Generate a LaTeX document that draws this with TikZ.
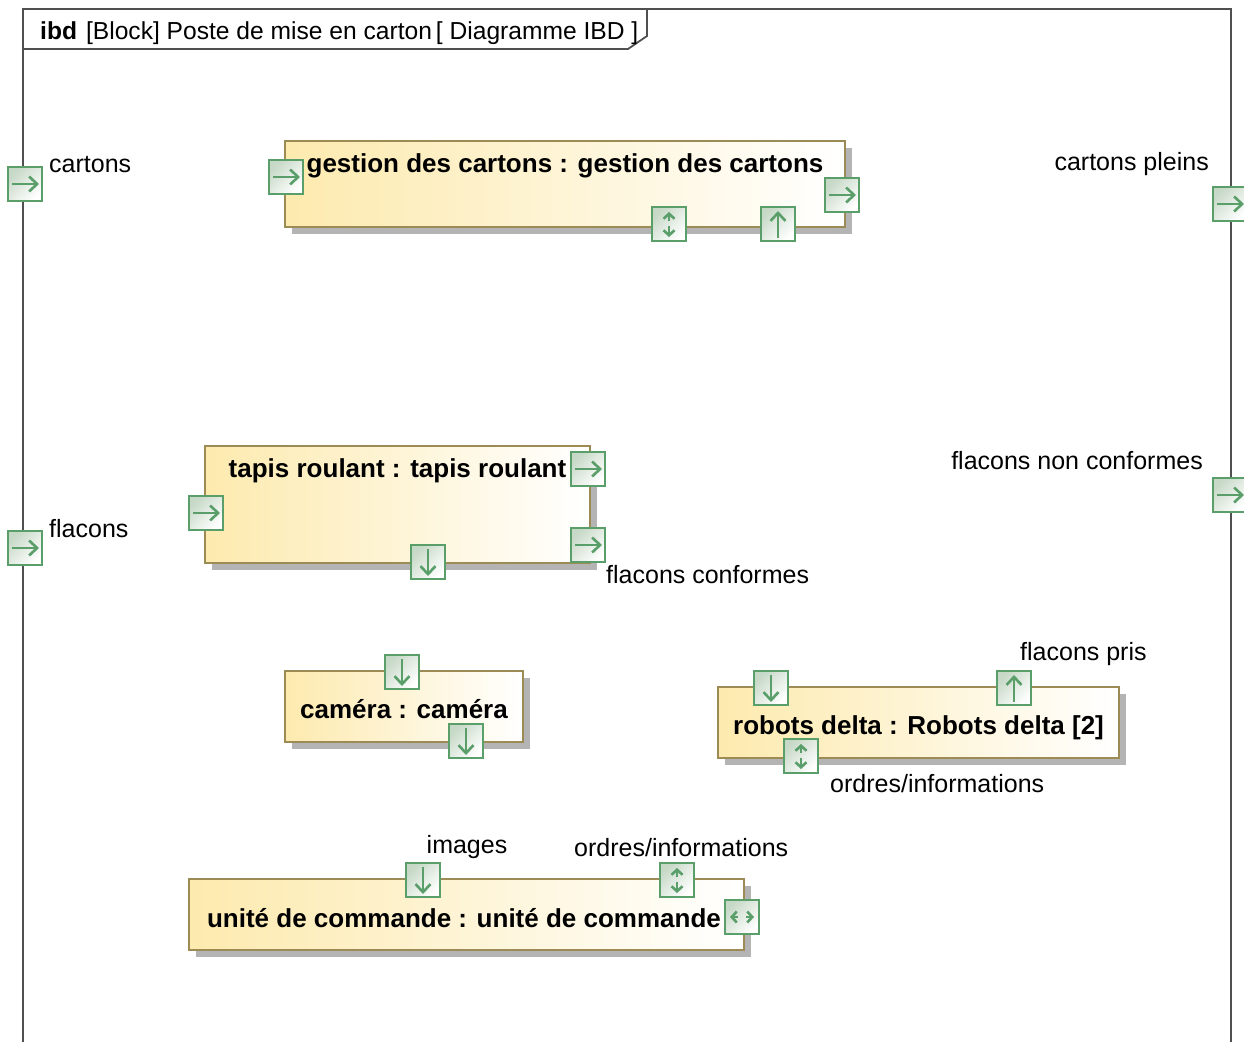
\documentclass[tikz,border=0pt]{standalone}
\usepackage{fontspec}
\setmainfont{Liberation Sans}
\usetikzlibrary{arrows.meta,shadows,positioning}

\definecolor{vertport}{HTML}{5A9E6A}
\definecolor{fondport}{HTML}{C6D8C6}
\definecolor{jaunebloc}{HTML}{FDEAAE}
\definecolor{bordbloc}{HTML}{9C8B55}
\definecolor{ombre}{HTML}{B4B4B4}
\definecolor{cadre}{HTML}{505050}

\newcommand{\txtlbl}{\fontsize{25}{30}\selectfont}
\newcommand{\txtbloc}{\fontsize{26}{30}\selectfont\bfseries}

\tikzset{
  fleche/.style = {draw=vertport, line width=2.6pt, -{Straight Barb[length=8pt,width=15pt]}},
  petite/.style = {draw=vertport, line width=2.6pt, -{Straight Barb[length=5pt,width=11pt]}},
  pR/.pic  = {\draw[fleche] (-13,0) -- (14,0);},
  pD/.pic  = {\draw[fleche] (0,-13) -- (0,14);},
  pU/.pic  = {\draw[fleche] (0,14) -- (0,-13);},
  pUD/.pic = {\draw[petite] (0,-3) -- (0,-12); \draw[petite] (0,2) -- (0,13);},
  pLR/.pic = {\draw[petite] (-4,0) -- (-12,0); \draw[petite] (4,0) -- (12,0);}
}

\begin{document}
\begin{tikzpicture}[x=1pt, y=-1pt,
    bloc/.style = {draw=bordbloc, line width=1.6pt, left color=jaunebloc, right color=white,
                   inner sep=0pt,
                   drop shadow={shadow xshift=7pt, shadow yshift=-7pt, opacity=1, fill=ombre}},
    titre/.style = {anchor=base, inner sep=0pt, font=\txtbloc},
    port/.style = {draw=vertport, line width=2.4pt, minimum size=34pt, inner sep=0pt,
                   top color=fondport, bottom color=white, shading angle=45},
    lbl/.style = {inner sep=0pt, font=\txtlbl},
    cadre/.style = {draw=cadre, line width=1.8pt}]
    \useasboundingbox (0,0) rectangle (1244,1041);

    % Cadre du diagramme
    \draw[cadre] (23,1045) -- (23,9) -- (1231,9) -- (1231,1045);
    \draw[cadre] (23,49) -- (628,49) -- (647,36) -- (647,9);
    \node[lbl, anchor=base west, font=\fontsize{24.6}{28}\selectfont] (entete) at (40,40)
        {\textbf{ibd}\hspace{9pt}[Block] Poste de mise en carton\hspace{4pt}[ Diagramme IBD ]};

    % Blocs
    \node[bloc, minimum width=560pt, minimum height=86pt] (gc) at (565,184) {};
    \node[titre] (gc-t) at (565,172) {gestion des cartons : gestion des cartons};
    \node[bloc, minimum width=385pt, minimum height=117pt] (tr) at (397.5,504.5) {};
    \node[titre] (tr-t) at (397.5,477) {tapis roulant : tapis roulant};
    \node[bloc, minimum width=238pt, minimum height=71pt] (ca) at (404,706.5) {};
    \node[titre] (ca-t) at (404,718) {cam\'era : cam\'era};
    \node[bloc, minimum width=401pt, minimum height=71pt] (rd) at (918.5,722.5) {};
    \node[titre] (rd-t) at (918.5,734) {robots delta : Robots delta [2]};
    \node[bloc, minimum width=555pt, minimum height=71pt] (uc) at (466.5,914.5) {};
    \node[titre] (uc-t) at (464,927) {unit\'e de commande : unit\'e de commande};

    % Ports du cadre
    \node[port] (f-cartons) at (25,184) {};  \pic at (f-cartons) {pR};
    \node[port] (f-flacons) at (25,548) {};  \pic at (f-flacons) {pR};
    \node[port] (f-pleins) at (1230,204) {}; \pic at (f-pleins) {pR};
    \node[port] (f-nc) at (1230,495) {};     \pic at (f-nc) {pR};

    % Ports des blocs
    \node[port] (gc-in) at (286,177) {};  \pic at (gc-in) {pR};
    \node[port] (gc-out) at (842,195) {}; \pic at (gc-out) {pR};
    \node[port] (gc-b1) at (669,224) {};  \pic at (gc-b1) {pUD};
    \node[port] (gc-b2) at (778,224) {};  \pic at (gc-b2) {pU};

    \node[port] (tr-o1) at (588,469) {};  \pic at (tr-o1) {pR};
    \node[port] (tr-in) at (206,513) {};  \pic at (tr-in) {pR};
    \node[port] (tr-o2) at (588,545) {};  \pic at (tr-o2) {pR};
    \node[port] (tr-b) at (428,562) {};   \pic at (tr-b) {pD};

    \node[port] (ca-h) at (402,672) {};   \pic at (ca-h) {pD};
    \node[port] (ca-b) at (466,741) {};   \pic at (ca-b) {pD};

    \node[port] (rd-h1) at (771,688) {};  \pic at (rd-h1) {pD};
    \node[port] (rd-h2) at (1014,688) {}; \pic at (rd-h2) {pU};
    \node[port] (rd-b) at (801,756) {};   \pic at (rd-b) {pUD};

    \node[port] (uc-h1) at (423,880) {};  \pic at (uc-h1) {pD};
    \node[port] (uc-h2) at (677,880) {};  \pic at (uc-h2) {pUD};
    \node[port] (uc-d) at (742,917) {};   \pic at (uc-d) {pLR};

    % Etiquettes
    \node[lbl, anchor=base west] (l-cartons) at (49,172) {cartons};
    \node[lbl, anchor=base west] (l-flacons) at (49,537) {flacons};
    \node[lbl, anchor=base east] (l-pleins) at (1209,170) {cartons pleins};
    \node[lbl, anchor=base east] (l-nc) at (1203,469) {flacons non conformes};
    \node[lbl, anchor=base west] (l-conf) at (606,583) {flacons conformes};
    \node[lbl, anchor=base west] (l-pris) at (1020,660) {flacons pris};
    \node[lbl, anchor=base west] (l-ordres1) at (830,792) {ordres/informations};
    \node[lbl, anchor=base] (l-images) at (467,853) {images};
    \node[lbl, anchor=base west] (l-ordres2) at (574,856) {ordres/informations};
\end{tikzpicture}
\end{document}
